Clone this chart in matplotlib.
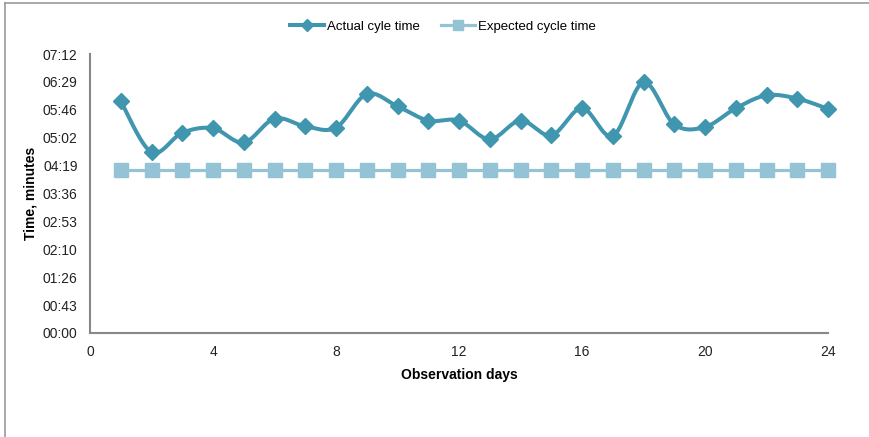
import numpy as np
import matplotlib.pyplot as plt
from matplotlib.ticker import FuncFormatter, MultipleLocator
from matplotlib.lines import Line2D

plt.rcParams['font.family'] = ['Liberation Sans', 'DejaVu Sans']

# cycle times in seconds
days = list(range(1, 25))
actual = [359, 280, 310, 317, 295, 332, 320, 318, 370, 351, 329, 329,
          300, 329, 306, 348, 305, 388, 323, 319, 348, 368, 363, 347]
expected = [252] * 24

c_act = '#3f96ae'
c_exp = '#93c3d5'


def smooth(x, y, n=20):
    # excel-style smoothed line (bezier through the points)
    x = np.asarray(x, float)
    y = np.asarray(y, float)
    px = np.concatenate([[x[0]], x, [x[-1]]])
    py = np.concatenate([[y[0]], y, [y[-1]]])
    xs, ys = [], []
    t = np.linspace(0, 1, n)
    for i in range(1, len(px) - 2):
        p0 = np.array([px[i], py[i]])
        p3 = np.array([px[i + 1], py[i + 1]])
        p1 = p0 + (np.array([px[i + 1], py[i + 1]]) - np.array([px[i - 1], py[i - 1]])) / 6
        p2 = p3 - (np.array([px[i + 2], py[i + 2]]) - np.array([px[i], py[i]])) / 6
        b = ((1 - t) ** 3)[:, None] * p0 + (3 * (1 - t) ** 2 * t)[:, None] * p1 \
            + (3 * (1 - t) * t ** 2)[:, None] * p2 + (t ** 3)[:, None] * p3
        xs.extend(b[:, 0])
        ys.extend(b[:, 1])
    return xs, ys


fig = plt.figure(figsize=(8.69, 4.37), dpi=100)
ax = fig.add_axes([90 / 869, 1 - 333 / 437, 738 / 869, 279 / 437])

ax.plot(days, expected, color=c_exp, lw=2.3, marker='s', ms=10.5, mec=c_exp,
        zorder=2, clip_on=False)
sx, sy = smooth(days, actual)
ax.plot(sx, sy, color=c_act, lw=2.9, zorder=3, clip_on=False)
ax.plot(days, actual, ls='none', marker='D', ms=8, color=c_act, zorder=4,
        clip_on=False)

ax.set_xlim(0, 24)
ax.set_ylim(0, 432)
ax.xaxis.set_major_locator(MultipleLocator(4))
ax.yaxis.set_major_locator(MultipleLocator(43.2))


def mmss(v, pos):
    s = int(round(v))
    return '%02d:%02d' % (s // 60, s % 60)


ax.yaxis.set_major_formatter(FuncFormatter(mmss))
ax.tick_params(length=0, labelsize=10, colors='#222222', pad=9)
ax.tick_params(axis='x', pad=9)
for s in ['top', 'right']:
    ax.spines[s].set_visible(False)
for s in ['left', 'bottom']:
    ax.spines[s].set_color('#888888')
    ax.spines[s].set_linewidth(1.5)

ax.set_xlabel('Observation days', fontsize=10, fontweight='bold', labelpad=6)
ax.set_ylabel('Time, minutes', fontsize=10, fontweight='bold', labelpad=4)

handles = [Line2D([], [], color=c_act, lw=2.9, marker='D', ms=6),
           Line2D([], [], color=c_exp, lw=2.3, marker='s', ms=7)]
fig.legend(handles, ['Actual cyle time', 'Expected cycle time'],
           loc='center', bbox_to_anchor=(443 / 869, 1 - 27 / 437), ncol=2,
           frameon=False, fontsize=9.5, handlelength=2.6, handletextpad=0.2,
           columnspacing=1.6)

# outer frame lines (chart is cropped at right/bottom)
fig.add_artist(Line2D([5 / 869, 1], [1 - 3 / 437] * 2, color='#999999', lw=1.2))
fig.add_artist(Line2D([5 / 869] * 2, [0, 1 - 3 / 437], color='#999999', lw=1.2))

fig.savefig('out.png', dpi=100)
